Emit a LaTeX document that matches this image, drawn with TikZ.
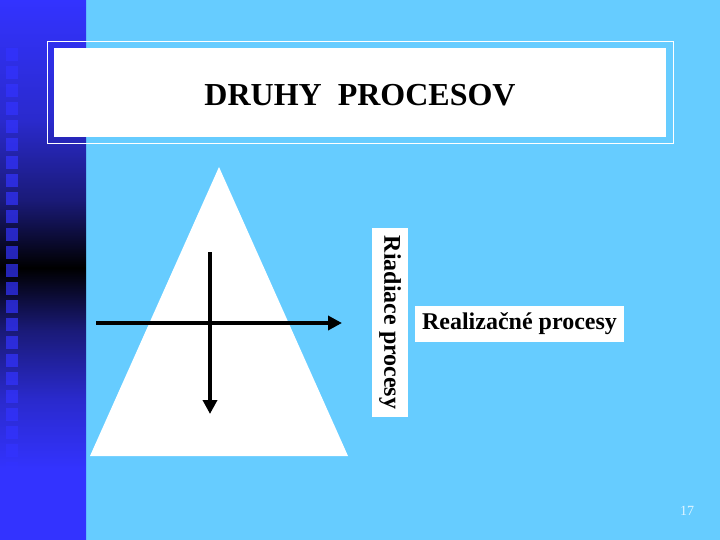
\documentclass[tikz,border=0pt]{standalone}
\usepackage{fontspec}
\setmainfont{Liberation Serif}
\usetikzlibrary{arrows.meta}
\definecolor{slidesky}{RGB}{102,204,255}
\definecolor{barblue}{RGB}{51,51,255}
\definecolor{barmid}{RGB}{42,42,205}
\definecolor{barnavy}{RGB}{26,26,120}
\definecolor{pagenum}{RGB}{225,245,255}
\pgfdeclareverticalshading{leftbar}{100bp}{color(0bp)=(barblue); color(31.5bp)=(barblue); color(38bp)=(barmid); color(44.4bp)=(barnavy); color(50.2bp)=(black); color(56.5bp)=(barnavy); color(63.9bp)=(barmid); color(75bp)=(barblue); color(100bp)=(barblue)}
\tikzset{
	flow/.style={line width=4pt, -{Triangle[length=14pt,width=14pt]}},
	labbox/.style={fill=white, inner sep=0pt, font=\fontsize{24}{28}\selectfont\bfseries},
	barsquare/.style={fill=barblue, opacity=.7}
}
\begin{document}
\begin{tikzpicture}[x=1pt, y=-1pt]
		\useasboundingbox (0, 0) rectangle (720, 540);
		\fill[slidesky](0, 0) rectangle (720, 540);
		\shade[shading=leftbar](0, 0) rectangle (86, 540);
			\foreach \k in {0,...,24}
				\fill[barsquare](6, 48.3+18*\k) rectangle (18, 60.8+18*\k);

		%%%%%%%%%%%%%%%%%%%%%%%%%%%%
		\draw[white, line width=1pt](47, 42) rectangle (673, 144);
		\fill[white](54, 48) rectangle (666, 137);
		\node (title) at(360, 95){\fontsize{32}{36}\selectfont\bfseries DRUHY\ \ PROCESOV};

		%%%%%%%%%%%%%%%%%%%%%%%%%%%%
		\fill[white](219, 167) -- (348, 456) -- (90, 456) -- cycle;
			\coordinate (hstart) at(96, 323);
			\coordinate (hend) at(342, 323);
			\coordinate (vstart) at(210, 252);
			\coordinate (vend) at(210, 414);
			\draw[flow](hstart) to (hend);
			\draw[flow](vstart) to (vend);

		\node[labbox, rotate=-90, minimum width=189pt, minimum height=36pt] (ctrl) at(390, 322.5){Riadiace procesy};
		\node[labbox, minimum width=209pt, minimum height=36pt] (real) at(519.5, 324){Realizačné procesy};

		%%%%%%%%%%%%%%%%%%%%%%%%%%%%
		\node[pagenum] (page) at(687, 511){\fontsize{14}{16}\selectfont 17};
\end{tikzpicture}
\end{document}
